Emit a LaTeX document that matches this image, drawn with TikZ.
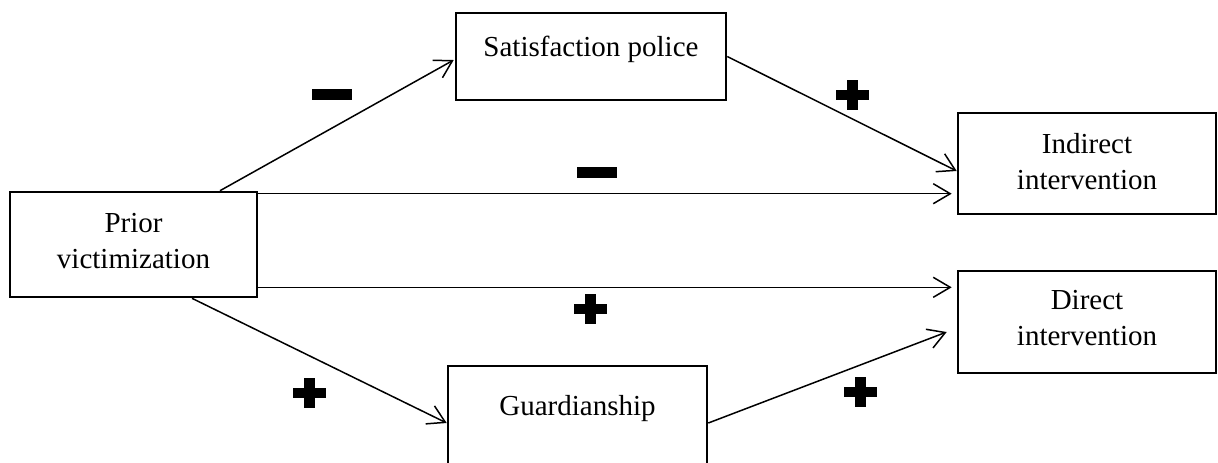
\documentclass[tikz,border=0pt]{standalone}
\usepackage{fontspec}
\setmainfont{Liberation Serif}
\usetikzlibrary{arrows.meta,calc}
\begin{document}
\begin{tikzpicture}[x=0.5pt,y=-0.5pt,
  box/.style={draw, line width=1.3pt, inner sep=0pt, font=\fontsize{14.5}{18}\selectfont},
  arr/.style={-{Straight Barb[length=8.5pt,width=10pt]}, line width=0.75pt},
  plussign/.pic={\fill (-16.5,-5) rectangle (16.5,5); \fill (-5.5,-15) rectangle (5.5,15);},
  minussign/.pic={\fill (-20,-5.5) rectangle (20,5.5);}]
\clip (0,0) rectangle (1218,462);
\fill[white] (0,0) rectangle (1218,462);
% boxes
\node[box, minimum width=123.5pt, minimum height=52.5pt, align=center, text depth=4pt] (prior) at (133.5,244.5) {Prior\\victimization};
\node[box, minimum width=135pt, text height=21.5pt, text depth=22pt, anchor=base] (sat) at (591,56) {Satisfaction police};
\node[box, minimum width=129pt, minimum height=50.5pt, align=center, text depth=2pt] (ind) at (1087,163.5) {Indirect\\intervention};
\node[box, minimum width=129pt, minimum height=51pt, align=center, text depth=4pt] (dir) at (1087,322) {Direct\\intervention};
\node[box, minimum width=129.5pt, text height=24.5pt, text depth=32.5pt, anchor=base] (guard) at (577.5,415) {Guardianship};
% helper coordinates
\coordinate (h1) at ($(prior.north east)+(0,3)$);
\coordinate (h2) at ($(prior.south east)+(0,-11)$);
% connectors
\draw[arr] ($(prior.north)+(86.5,0)$) -- ($(sat.west)+(-1,3.5)$);
\draw[arr] (sat.east) -- ($(ind.west)+(0,7.5)$);
\draw[arr, shorten >=2.5pt] (h1) -- (h1 -| ind.west);
\draw[arr, shorten >=2.5pt] (h2) -- (h2 -| dir.west);
\draw[arr] ($(prior.south)+(58.5,0)$) -- (guard.west);
\draw[arr] (guard.east) -- ($(dir.west)+(-10,10)$);
% signs
\pic at (332,94.5) {minussign};
\pic at (852.5,94.5) {plussign};
\pic at (596.5,172.5) {minussign};
\pic at (590.5,309) {plussign};
\pic at (309.5,393) {plussign};
\pic at (860,392) {plussign};
\end{tikzpicture}
\end{document}
